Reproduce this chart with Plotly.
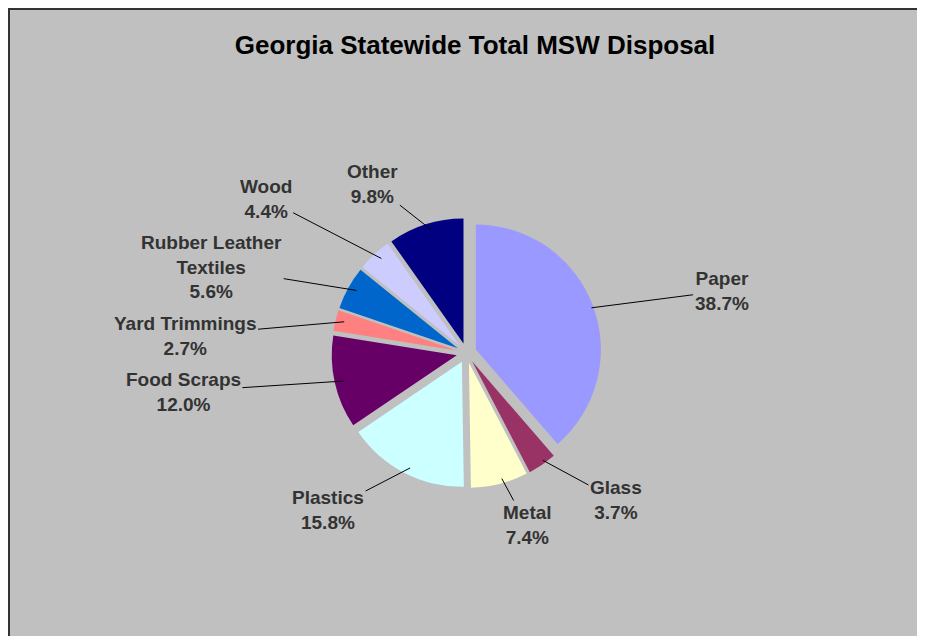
import math
import plotly.graph_objects as go

categories = ["Paper", "Glass", "Metal", "Plastics", "Food Scraps",
              "Yard Trimmings", "Rubber Leather<br>Textiles", "Wood", "Other"]
values = [38.7, 3.7, 7.4, 15.8, 12.0, 2.7, 5.6, 4.4, 9.8]
colors = ["#9999FF", "#993366", "#FFFFCC", "#CCFFFF", "#660066",
          "#FF8080", "#0066CC", "#CCCCFF", "#000080"]

# the page body adds an 8px margin on every side
W, H = 917, 628
CX, CY = 462, 345          # pie centre in pixels (figure coords)
R = 125                    # pie radius in pixels
PULL = 0.08
FONT = "Liberation Sans, Arial, sans-serif"
LABEL_SIZE = 19
LINE_H = 25

half_box = R * (1 + PULL)
dom_y = [1 - (CY + half_box) / H, 1 - (CY - half_box) / H]

fig = go.Figure(go.Pie(
    labels=categories,
    values=values,
    sort=False,
    direction="clockwise",
    rotation=0,
    pull=[PULL] * len(values),
    marker=dict(colors=colors, line=dict(width=0)),
    textinfo="none",
    hoverinfo="label+percent",
    domain=dict(x=[0, 1], y=dom_y),
    showlegend=False,
))

# label positions derived from slice mid-angles
total = sum(values)
cum = 0.0
LCX = CX - 12
LX, LY = 2.25, 1.42
items = []
for lab, v in zip(categories, values):
    mid = (cum + v / 2) / total * 2 * math.pi
    cum += v
    s, c = math.sin(mid), math.cos(mid)
    nlines = lab.count("<br>") + 2
    longest = max(len(t) for t in lab.split("<br>"))
    items.append(dict(lab=lab, v=v, s=s, c=c,
                      tx=CX + R * (1 + PULL) * s * 0.96,
                      ty=CY - R * (1 + PULL) * c * 0.96,
                      lx=LCX + R * LX * s,
                      ly=CY - R * LY * c,
                      h=nlines * LINE_H,
                      w=longest * LABEL_SIZE * 0.58))

# push apart labels whose boxes collide (split the shift between both)
for _ in range(60):
    moved = False
    order = sorted(items, key=lambda d: d["ly"])
    for i in range(len(order)):
        for j in range(i + 1, len(order)):
            a, b = order[i], order[j]
            if abs(a["lx"] - b["lx"]) > (a["w"] + b["w"]) / 2:
                continue
            need = (a["h"] + b["h"]) / 2 + 6
            gap = b["ly"] - a["ly"]
            if gap < need:
                d = (need - gap) / 2
                a["ly"] -= d
                b["ly"] += d
                moved = True
    if not moved:
        break

for it in items:
    fig.add_annotation(
        x=it["tx"] / W, y=1 - it["ty"] / H, xref="paper", yref="paper",
        ax=it["lx"] - it["tx"], ay=it["ly"] - it["ty"],
        text=f"<b>{it['lab']}<br>{it['v']:.1f}%</b>",
        showarrow=True, arrowhead=0, arrowwidth=1, arrowcolor="#000000",
        font=dict(family=FONT, size=LABEL_SIZE, color="#333333"),
        align="center",
    )

# chart-area frame: dark rule along the left and top edges
fig.add_shape(type="line", xref="paper", yref="paper",
              x0=1 / W, x1=1 / W, y0=0, y1=1,
              line=dict(color="#333333", width=2))
fig.add_shape(type="line", xref="paper", yref="paper",
              x0=0, x1=1, y0=1 - 1 / H, y1=1 - 1 / H,
              line=dict(color="#333333", width=2))

fig.update_layout(
    width=W, height=H,
    margin=dict(l=0, r=0, t=0, b=0),
    paper_bgcolor="#C0C0C0",
    plot_bgcolor="#C0C0C0",
    title=dict(text="<b>Georgia Statewide Total MSW Disposal</b>",
               x=(475 - 8) / W, xanchor="center", y=1 - 37 / H,
               yanchor="middle",
               font=dict(family=FONT, size=26, color="#000000")),
)

fig.write_html("out.html")
